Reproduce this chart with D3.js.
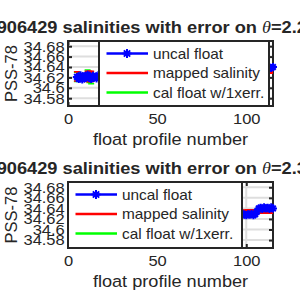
<!DOCTYPE html>
<head>
  <meta charset="utf-8">
  <script src="https://d3js.org/d3.v7.min.js"></script>
  <style>
    body { margin:0; overflow:hidden; background:#fff; }
    svg { display:block; }
    text { font-family: "Liberation Sans", Arial, Helvetica, sans-serif; fill:#262626; }
  </style>
</head>

<body>
  <script type='text/javascript'>
    // profile numbers shared by both panels
    var profileNo = [5,6,7,8,9,10,11,12,13,14,15,16,17,18,19,20,
      25,30,35,40,45,50,55,60,65,70,75,80,85,90,95,
      96,97,98,99,100,101,102,103,104,105,106,107,108,109,110,111,112,113,114,115];

    // theta = 2.2 level
    var uncal22 = [34.621,34.617,34.624,34.616,34.622,34.619,34.625,34.620,34.617,34.623,34.621,34.618,34.624,34.622,34.620,34.623,
      34.622,34.625,34.621,34.624,34.626,34.623,34.627,34.625,34.628,34.626,34.629,34.627,34.630,34.628,34.631,
      34.630,34.632,34.631,34.633,34.632,34.634,34.633,34.635,34.634,34.636,34.637,34.636,34.638,34.637,34.639,34.638,34.637,34.639,34.638,34.640];
    var mapped22 = [34.622,34.622,34.622,34.622,34.622,34.622,34.622,34.622,34.622,34.622,34.622,34.622,34.622,34.623,34.623,34.623,
      34.623,34.624,34.624,34.625,34.625,34.626,34.626,34.627,34.627,34.628,34.628,34.629,34.629,34.630,34.630,
      34.630,34.630,34.630,34.631,34.631,34.631,34.631,34.631,34.632,34.632,34.632,34.632,34.632,34.632,34.633,34.633,34.632,34.632,34.632,34.632];
    var mapErr22 = [0.009,0.004,0.004,0.004,0.004,0.004,0.010,0.010,0.010,0.004,0.004,0.004,0.004,0.004,0.004,0.004,
      0.004,0.004,0.004,0.004,0.004,0.004,0.004,0.004,0.004,0.004,0.004,0.004,0.004,0.004,0.004,
      0.004,0.004,0.004,0.004,0.004,0.004,0.004,0.004,0.004,0.004,0.004,0.004,0.004,0.004,0.004,0.004,0.004,0.004,0.004,0.004];
    var cal22 = [34.621,34.618,34.623,34.617,34.622,34.619,34.624,34.620,34.618,34.622,34.621,34.619,34.623,34.622,34.620,34.622,
      34.622,34.624,34.621,34.624,34.625,34.623,34.626,34.625,34.627,34.626,34.628,34.627,34.629,34.628,34.630,
      34.630,34.631,34.631,34.632,34.632,34.633,34.633,34.634,34.634,34.635,34.636,34.636,34.637,34.637,34.638,34.638,34.637,34.638,34.638,34.639];

    // theta = 2.3 level
    var uncal23 = [34.620,34.618,34.623,34.617,34.621,34.619,34.624,34.619,34.618,34.622,34.620,34.619,34.623,34.621,34.620,34.622,
      34.621,34.623,34.622,34.624,34.625,34.623,34.626,34.625,34.627,34.626,34.628,34.627,34.629,34.628,34.629,
      34.629,34.627,34.630,34.628,34.627,34.629,34.628,34.630,34.627,34.629,34.634,34.640,34.641,34.639,34.642,34.640,34.641,34.639,34.642,34.640];
    var mapped23 = [34.622,34.622,34.622,34.622,34.622,34.622,34.622,34.622,34.622,34.622,34.622,34.623,34.623,34.623,34.623,34.623,
      34.624,34.624,34.625,34.625,34.626,34.626,34.627,34.627,34.628,34.628,34.629,34.630,34.630,34.631,34.632,
      34.632,34.633,34.633,34.633,34.634,34.634,34.634,34.634,34.634,34.634,34.634,34.634,34.634,34.634,34.634,34.634,34.634,34.634,34.634,34.634];
    var mapErr23 = [0.003,0.003,0.003,0.003,0.003,0.003,0.003,0.003,0.003,0.003,0.003,0.003,0.003,0.003,0.003,0.003,
      0.003,0.003,0.003,0.003,0.003,0.003,0.003,0.003,0.003,0.003,0.003,0.003,0.003,0.003,0.003,
      0.003,0.003,0.003,0.003,0.003,0.003,0.003,0.003,0.003,0.003,0.003,0.003,0.003,0.003,0.003,0.003,0.003,0.003,0.003,0.003];
    var cal23 = [34.620,34.618,34.622,34.618,34.621,34.619,34.623,34.619,34.618,34.622,34.620,34.619,34.622,34.621,34.620,34.622,
      34.621,34.623,34.622,34.624,34.624,34.623,34.626,34.625,34.626,34.626,34.628,34.627,34.628,34.628,34.629,
      34.629,34.628,34.630,34.628,34.628,34.629,34.628,34.630,34.628,34.632,34.634,34.638,34.640,34.639,34.641,34.640,34.640,34.639,34.641,34.640];

    var yTicks = [34.58, 34.6, 34.62, 34.64, 34.66, 34.68];
    var yTickLabels = ["34.58", "34.6", "34.62", "34.64", "34.66", "34.68"];
    var xTicks = [0, 50, 100];
    var xTickLabels = ["0", "50", "100"];
    var legendLabels = ["uncal float", "mapped salinity", "cal float w/1xerr."];
    var legendColors = ["#0000ff", "#ff0000", "#00ff00"];
    var floatName = "5906429";
    var thetaLevels = ["2.2", "2.3"];

    var W = 300, H = 300;
    var left = 68, right = 273;
    var sx = 1.1; // text is a little wider than tall in the picture
    var axisColor = "#262626";

    var svg = d3.select("body").append("svg")
      .attr("width", W).attr("height", H);

    var x = d3.scaleLinear().domain([0, 115]).range([left, right]);

    var panels = [
      {top: 41, bottom: 106, legX: [99, 269], uncal: uncal22, mapped: mapped22, err: mapErr22, cal: cal22},
      {top: 182, bottom: 248, legX: [68, 242], uncal: uncal23, mapped: mapped23, err: mapErr23, cal: cal23}
    ];

    function star(r) {
      var a = r * 0.7;
      return "M" + (-r) + ",0L" + r + ",0M0," + (-r) + "L0," + r +
        "M" + (-a) + "," + (-a) + "L" + a + "," + a + "M" + (-a) + "," + a + "L" + a + "," + (-a);
    }

    function wideText(sel, px, py, s) {
      return sel.append("text").attr("transform", "translate(" + px + "," + py + ") scale(" + (s || sx) + ",1)");
    }

    panels.forEach(function(p, k) {
      var y = d3.scaleLinear().domain([34.565, 34.69]).range([p.bottom, p.top]);
      var g = svg.append("g");

      // grid
      g.selectAll(".hgrid").data(yTicks).enter().append("line")
        .attr("x1", left).attr("x2", right)
        .attr("y1", d => y(d)).attr("y2", d => y(d))
        .attr("stroke", "#dedede").attr("stroke-width", 2);
      g.selectAll(".vgrid").data(xTicks).enter().append("line")
        .attr("y1", p.top).attr("y2", p.bottom)
        .attr("x1", d => x(d)).attr("x2", d => x(d))
        .attr("stroke", "#dedede").attr("stroke-width", 2);

      // axes
      var yAxis = g.append("g").attr("transform", "translate(" + left + ",0)")
        .call(d3.axisLeft(y).tickValues(yTicks).tickSizeInner(-4).tickSizeOuter(0).tickPadding(3)
          .tickFormat((d, i) => yTickLabels[i]));
      var yAxisR = g.append("g").attr("transform", "translate(" + right + ",0)")
        .call(d3.axisRight(y).tickValues(yTicks).tickSizeInner(-4).tickSizeOuter(0).tickFormat(""));
      var xAxis = g.append("g").attr("transform", "translate(0," + p.bottom + ")")
        .call(d3.axisBottom(x).tickValues(xTicks).tickSizeInner(-4).tickSizeOuter(0).tickPadding(7)
          .tickFormat((d, i) => xTickLabels[i]));
      var xAxisT = g.append("g").attr("transform", "translate(0," + p.top + ")")
        .call(d3.axisTop(x).tickValues(xTicks).tickSizeInner(-4).tickSizeOuter(0).tickFormat(""));
      [yAxis, yAxisR, xAxis, xAxisT].forEach(function(a) {
        a.select(".domain").remove();
        a.selectAll(".tick line").attr("stroke", axisColor).attr("stroke-width", 2);
        a.selectAll(".tick text").attr("font-size", 15).attr("fill", axisColor)
          .attr("font-family", "Liberation Sans, Arial, sans-serif")
          .attr("transform", "scale(" + sx + ",1)");
      });
      xAxis.selectAll(".tick text").attr("transform", null)
        .each(function() {
          var t = d3.select(this);
          t.attr("transform", "translate(0," + t.attr("y") + ") scale(" + sx + ",1)").attr("y", 0);
        });

      g.append("rect")
        .attr("x", left).attr("y", p.top)
        .attr("width", right - left).attr("height", p.bottom - p.top)
        .attr("fill", "none").attr("stroke", axisColor).attr("stroke-width", 2);

      // data
      var clipId = "clip" + k;
      svg.append("clipPath").attr("id", clipId).append("rect")
        .attr("x", left).attr("y", p.top)
        .attr("width", right - left).attr("height", p.bottom - p.top);
      var data = profileNo.map(function(n, i) {
        return {n: n, uncal: p.uncal[i], mapped: p.mapped[i], err: p.err[i], cal: p.cal[i]};
      });
      var dg = g.append("g").attr("clip-path", "url(#" + clipId + ")");

      function errorbars(key, color) {
        var line = d3.line().x(d => x(d.n)).y(d => y(d[key]));
        dg.append("path").datum(data).attr("d", line)
          .attr("fill", "none").attr("stroke", color).attr("stroke-width", 2);
        dg.selectAll(".eb-" + key).data(data).enter().append("path")
          .attr("d", d => "M" + x(d.n) + "," + y(d[key] - d.err) + "V" + y(d[key] + d.err) +
            "M" + (x(d.n) - 3) + "," + y(d[key] - d.err) + "h6" +
            "M" + (x(d.n) - 3) + "," + y(d[key] + d.err) + "h6")
          .attr("fill", "none").attr("stroke", color).attr("stroke-width", 1.5);
      }
      errorbars("cal", "#00ff00");
      errorbars("mapped", "#ff0000");

      dg.append("path").datum(data)
        .attr("d", d3.line().x(d => x(d.n)).y(d => y(d.uncal)))
        .attr("fill", "none").attr("stroke", "#0000ff").attr("stroke-width", 2.5);
      g.selectAll(".mk").data(data).enter().append("path")
        .attr("transform", d => "translate(" + x(d.n) + "," + y(d.uncal) + ")")
        .attr("d", star(4))
        .attr("fill", "none").attr("stroke", "#0000ff").attr("stroke-width", 2);

      // legend
      var lg = svg.append("g");
      lg.append("rect")
        .attr("x", p.legX[0]).attr("y", p.top)
        .attr("width", p.legX[1] - p.legX[0]).attr("height", p.bottom - p.top)
        .attr("fill", "#fff").attr("stroke", axisColor).attr("stroke-width", 2);
      legendLabels.forEach(function(lab, i) {
        var ly = p.top + 12.5 + i * 19.5;
        lg.append("line")
          .attr("x1", p.legX[0] + 7.5).attr("x2", p.legX[0] + 49)
          .attr("y1", ly).attr("y2", ly)
          .attr("stroke", legendColors[i]).attr("stroke-width", 2.5);
        if (i === 0) {
          lg.append("path").attr("transform", "translate(" + (p.legX[0] + 28) + "," + ly + ")")
            .attr("d", star(4.5)).attr("fill", "none").attr("stroke", legendColors[i]).attr("stroke-width", 2);
        }
        wideText(lg, p.legX[0] + 54, ly + 5).attr("font-size", 14).text(lab);
      });

      // labels
      wideText(svg, (left + right) / 2, p.bottom + 38.5)
        .attr("text-anchor", "middle").attr("font-size", 16.5).text("float profile number");
      svg.append("text")
        .attr("transform", "translate(16.7," + ((p.top + p.bottom) / 2) + ") rotate(-90)")
        .attr("text-anchor", "middle").attr("font-size", 16.5).text("PSS-78");

      var title = wideText(svg, -13.5, p.top - 8.5, 1.14)
        .attr("font-size", 16).attr("font-weight", "bold").attr("fill", "#000");
      title.append("tspan").text(floatName + " salinities with error on ");
      title.append("tspan").attr("font-family", "Liberation Serif, serif").attr("font-style", "italic")
        .attr("font-weight", "normal").text("θ");
      title.append("tspan").text("=" + thetaLevels[k] + "°C");
    });
  </script>
</body>
